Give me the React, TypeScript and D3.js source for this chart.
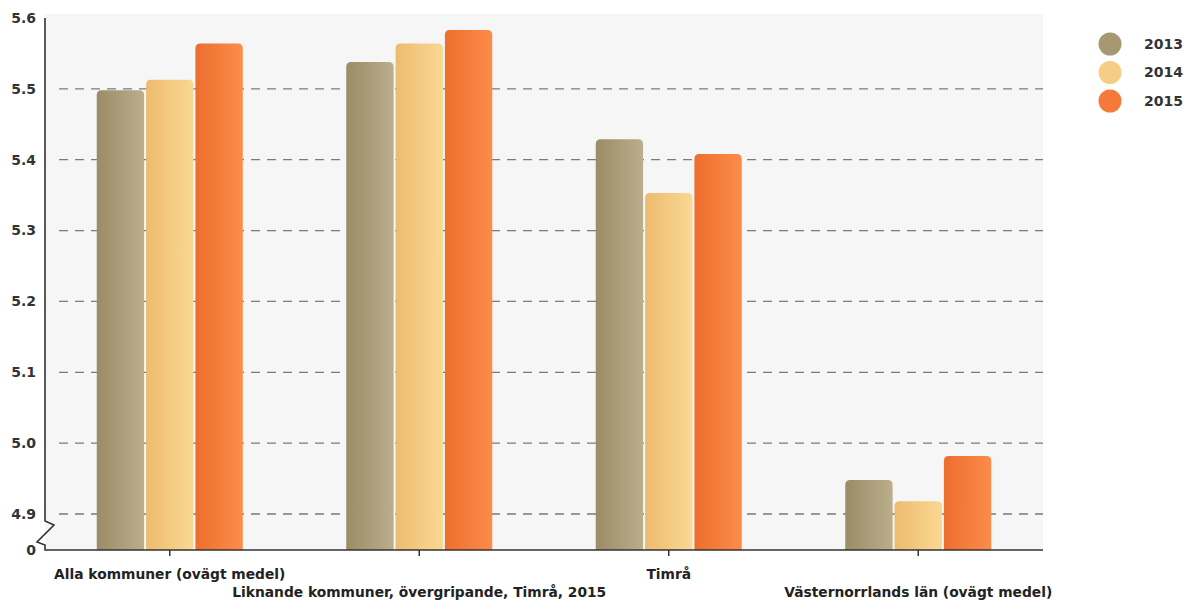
import { useEffect, useRef } from 'react';
import * as d3 from 'd3';

const categories = [
  'Alla kommuner (ovägt medel)',
  'Liknande kommuner, övergripande, Timrå, 2015',
  'Timrå',
  'Västernorrlands län (ovägt medel)',
];
const years = ['2013', '2014', '2015'];
const values2013 = [5.498, 5.538, 5.429, 4.948];
const values2014 = [5.513, 5.564, 5.353, 4.918];
const values2015 = [5.564, 5.583, 5.408, 4.982];
const yTicks = [4.9, 5.0, 5.1, 5.2, 5.3, 5.4, 5.5, 5.6];

const gradients = [
  ['#9a8c66', '#bbae8c'],
  ['#edbb6f', '#fad893'],
  ['#ed6e2e', '#fc8c4a'],
];
const legendColors = ['#a59872', '#f6cd85', '#f57a3a'];

const W = 1189;
const H = 603;
const font = '"DejaVu Sans", Verdana, sans-serif';

export default function App() {
  const ref = useRef<SVGSVGElement>(null);

  useEffect(() => {
    const svg = d3.select(ref.current);
    svg.selectAll('*').remove();
    const left = 45;
    const right = 1043;
    const top = 18;
    const base = 550;
    const series = [values2013, values2014, values2015];

    const defs = svg.append('defs');
    gradients.forEach((g, i) => {
      const lg = defs.append('linearGradient').attr('id', `grad${i}`).attr('x1', 0).attr('x2', 1).attr('y1', 0).attr('y2', 0);
      lg.append('stop').attr('offset', '0%').attr('stop-color', g[0]);
      lg.append('stop').attr('offset', '100%').attr('stop-color', g[1]);
    });

    svg.append('rect').attr('x', left).attr('y', top - 4).attr('width', right - left).attr('height', base - top + 4).attr('fill', '#f6f6f6');

    const x0 = d3.scaleBand().domain(categories).range([left, right]);
    const x1 = d3.scaleBand().domain(years).range([0, 146]).paddingInner(0.04);
    const y = d3.scaleLinear().domain([4.9, 5.6]).range([514, top]);

    // grid
    svg.append('g')
      .selectAll('line')
      .data(yTicks.slice(0, -1))
      .join('line')
      .attr('x1', left + 14)
      .attr('x2', right)
      .attr('y1', (d) => y(d))
      .attr('y2', (d) => y(d))
      .attr('stroke', '#7a7a7a')
      .attr('stroke-width', 1.3)
      .attr('stroke-dasharray', '9,7');

    // bars
    const r = 5;
    categories.forEach((c, ci) => {
      const gx = (x0(c) ?? 0) + x0.bandwidth() / 2 - 73;
      years.forEach((yr, si) => {
        const v = series[si][ci];
        const bx = gx + (x1(yr) ?? 0);
        const bw = x1.bandwidth();
        const ty = y(v);
        const p = d3.path();
        p.moveTo(bx, base);
        p.lineTo(bx, ty + r);
        p.quadraticCurveTo(bx, ty, bx + r, ty);
        p.lineTo(bx + bw - r, ty);
        p.quadraticCurveTo(bx + bw, ty, bx + bw, ty + r);
        p.lineTo(bx + bw, base);
        p.closePath();
        svg.append('path').attr('d', p.toString()).attr('fill', `url(#grad${si})`);
      });
    });

    // y axis with break
    const axisColor = '#333';
    svg.append('path')
      .attr('d', `M${left},${top} L${left},521 L54,525 L37,542 L${left},545 L${left},${base} L${right},${base}`)
      .attr('fill', 'none')
      .attr('stroke', axisColor)
      .attr('stroke-width', 1.6);

    svg.append('g')
      .selectAll('text')
      .data(yTicks)
      .join('text')
      .attr('x', 36)
      .attr('y', (d) => y(d))
      .attr('dy', '0.35em')
      .attr('text-anchor', 'end')
      .attr('font-family', font)
      .attr('font-weight', 'bold')
      .attr('font-size', 14)
      .attr('fill', '#333')
      .text((d) => d.toFixed(1));
    svg.append('text').attr('x', 36).attr('y', base).attr('dy', '0.35em').attr('text-anchor', 'end')
      .attr('font-family', font).attr('font-weight', 'bold').attr('font-size', 14).attr('fill', '#333').text('0');

    // x ticks and labels
    categories.forEach((c, i) => {
      const cx = (x0(c) ?? 0) + x0.bandwidth() / 2;
      svg.append('line').attr('x1', cx).attr('x2', cx).attr('y1', base).attr('y2', base + 6).attr('stroke', axisColor).attr('stroke-width', 1.5);
      svg.append('text')
        .attr('x', cx)
        .attr('y', i % 2 === 0 ? 579 : 597)
        .attr('text-anchor', 'middle')
        .attr('font-family', font)
        .attr('font-weight', 'bold')
        .attr('font-size', 13.8)
        .attr('fill', '#222')
        .text(c);
    });

    // legend
    years.forEach((yr, i) => {
      const ly = 44 + i * 28.5;
      svg.append('circle').attr('cx', 1110).attr('cy', ly).attr('r', 11.5).attr('fill', legendColors[i]);
      svg.append('text').attr('x', 1144).attr('y', ly).attr('dy', '0.35em')
        .attr('font-family', font).attr('font-weight', 'bold').attr('font-size', 14).attr('fill', '#333').text(yr);
    });
  }, []);

  return (
    <svg ref={ref} width={W} height={H} style={{ position: 'absolute', left: 0, top: 0, background: '#fff' }} />
  );
}
